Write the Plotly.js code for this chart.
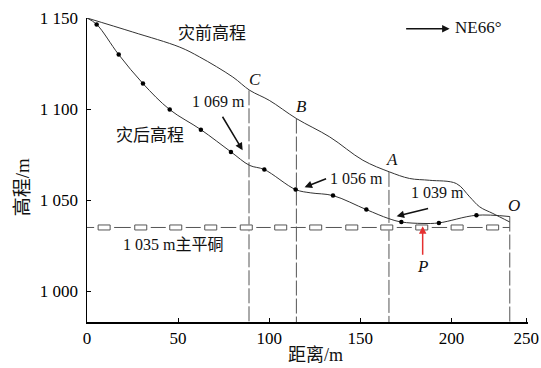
<!DOCTYPE html>
<html>
<head>
<meta charset="utf-8">
<script src="https://cdn.plot.ly/plotly-3.0.1.min.js"></script>
<style>html,body{margin:0;padding:0;background:#fff;}#chart{width:541px;height:368px;}</style>
</head>
<body>
<div id="chart"></div>
<script>
// Pre-disaster elevation profile (灾前高程)
const preX = [0, 25.1, 50.9, 61.8, 80, 89.3, 100, 114.9, 133.2, 151.4, 166, 177, 188, 202.7, 210, 215.5, 222.7, 232];
const preY = [1150, 1142.3, 1134, 1128.6, 1117.6, 1110.3, 1104.8, 1094.8, 1084.7, 1071.9, 1065.5, 1061.9, 1060.9, 1059.1, 1051.8, 1046.3, 1042.7, 1038];
// Post-disaster elevation profile (灾后高程)
const postX = [0, 5.3, 17.4, 30.7, 45.4, 62.5, 79, 89.2, 97.3, 114.5, 122.8, 135, 153.3, 165.5, 172.5, 184.4, 193.1, 213.7, 232];
const postY = [1150, 1146.5, 1129.9, 1114, 1099.7, 1088.7, 1076.5, 1069.1, 1066.8, 1055.8, 1054, 1052.5, 1044.8, 1039.9, 1038, 1037.2, 1037.5, 1041.7, 1041];
// Survey dots on post-disaster profile
const dotX = [5.3, 17.4, 30.7, 45.4, 62.5, 79, 97.3, 114.5, 135, 153.3, 172.5, 193.1, 213.7];
const dotY = [1146.5, 1129.9, 1114, 1099.7, 1088.7, 1076.5, 1066.8, 1055.8, 1052.5, 1044.8, 1038, 1037.5, 1041.7];
// Section lines C, B, A, O
const secNames = ['C', 'B', 'A', 'O'];
const secX = [88.9, 114.9, 165.7, 232];
const secTop = [1110.3, 1094.8, 1065.5, 1041];
// Main adit 1035 m
const aditElev = 1035;
const aditX = [0, 232];
const aditBoxX = [9.4, 29.5, 48.7, 67.9, 87.4, 106.3, 125.5, 145.3, 164.5, 183.7, 203.1, 222.6];
// Axis ticks
const xTickVals = [0, 50, 100, 150, 200, 241.1];
const xTickText = ['0', '50', '100', '150', '200', '250'];
const yTickVals = [1000, 1050, 1100, 1150];
const yTickText = ['1 000', '1 050', '1 100', '1 150'];
const yMin = 983.1;

const serif = 'Liberation Serif, Times New Roman, Noto Sans CJK SC, serif';
const cjk = 'Liberation Serif, Noto Sans CJK SC, sans-serif';

const traces = [];
traces.push({x: aditX, y: [aditElev, aditElev], mode: 'lines', line: {color: '#555', width: 1}, hoverinfo: 'skip'});
secX.forEach((sx, i) => {
  traces.push({x: [sx, sx], y: [secTop[i], yMin], mode: 'lines',
    line: {color: '#555', width: 1, dash: '15px,3px'}, hoverinfo: 'skip'});
});
traces.push({x: preX, y: preY, mode: 'lines', line: {color: '#333', width: 1, shape: 'spline', smoothing: 1}});
traces.push({x: postX, y: postY, mode: 'lines', line: {color: '#333', width: 1, shape: 'spline', smoothing: 1}});
traces.push({x: dotX, y: dotY, mode: 'markers', marker: {color: '#000', size: 4.5}});

const shapes = [];
aditBoxX.forEach(bx => {
  shapes.push({type: 'rect', layer: 'above', xref: 'x', yref: 'y', xsizemode: 'pixel', ysizemode: 'pixel',
    xanchor: bx, yanchor: aditElev, x0: -10, x1: 10, y0: -3, y1: 3, fillcolor: '#fff', line: {width: 0}});
  shapes.push({type: 'rect', layer: 'above', xref: 'x', yref: 'y', xsizemode: 'pixel', ysizemode: 'pixel',
    xanchor: bx, yanchor: aditElev, x0: -6, x1: 6, y0: -2.5, y1: 2.5, fillcolor: '#fff', line: {color: '#555', width: 1}});
});

const ann = [];
function txt(x, y, t, size, fam, extra) {
  ann.push(Object.assign({x: x, y: y, xref: 'x', yref: 'y', text: t, showarrow: false,
    font: {family: fam, size: size, color: '#111'}, xanchor: 'center', yanchor: 'middle'}, extra || {}));
}
txt(68.4, 1141.6, '灾前高程', 17, cjk);
txt(34.4, 1085.6, '灾后高程', 17, cjk);
txt(72.3, 1104.3, '1 069 m', 16, serif);
txt(148, 1062, '1 056 m', 16, serif);
txt(192.4, 1054.2, '1 039 m', 16, serif);
txt(47.1, 1025.8, '1 035 m主平硐', 16, cjk);
// section letters (italic)
const letterPos = [[92, 1116.4], [117.8, 1101.5], [167.2, 1072.5], [234.1, 1047.2]];
secNames.forEach((n, i) => txt(letterPos[i][0], letterPos[i][1], '<i>' + n + '</i>', 17, serif));
txt(184.2, 1013.7, '<i>P</i>', 17, serif);
// arrows
function arr(x, y, ax, ay, color) {
  ann.push({x: x, y: y, xref: 'x', yref: 'y', ax: ax, ay: ay, axref: 'pixel', ayref: 'pixel', text: '',
    showarrow: true, arrowhead: 2, arrowsize: 1, arrowwidth: 1.5, arrowcolor: color || '#111', standoff: 0});
}
arr(85.4, 1077.4, -21, -35);
arr(119.4, 1057.1, 23, -9);
arr(169.9, 1041.2, 33, -8);
arr(184.2, 1035.6, 0, 30, '#e53030');
arr(199.0, 1144.1, -45, 0);
txt(214.8, 1144.9, 'NE66°', 17, serif, {xanchor: 'center'});
// axis titles
ann.push({xref: 'paper', yref: 'paper', x: 0.519, y: -0.108, text: '距离/m', showarrow: false,
  font: {family: cjk, size: 18, color: '#111'}, xanchor: 'center', yanchor: 'middle'});
ann.push({xref: 'paper', yref: 'paper', x: -0.147, y: 0.444, text: '高程/m', showarrow: false, textangle: -90,
  font: {family: cjk, size: 19, color: '#111'}, xanchor: 'center', yanchor: 'middle'});

const layout = {
  width: 541, height: 368,
  margin: {l: 87, r: 13, t: 18, b: 46, pad: 0},
  paper_bgcolor: '#fff', plot_bgcolor: '#fff',
  showlegend: false,
  xaxis: {range: [0, 242], showgrid: false, zeroline: false, showline: true, linecolor: '#000', linewidth: 1.5,
    ticks: 'inside', ticklen: 4, tickcolor: '#000', tickvals: xTickVals, ticktext: xTickText,
    tickfont: {family: serif, size: 17, color: '#000'}, fixedrange: true},
  yaxis: {range: [yMin, 1150], showgrid: false, zeroline: false, showline: true, linecolor: '#000', linewidth: 1.5,
    ticks: 'inside', ticklen: 4, tickcolor: '#000', tickvals: yTickVals, ticktext: yTickText,
    ticklabelstandoff: 4,
    tickfont: {family: serif, size: 17, color: '#000'}, fixedrange: true},
  shapes: shapes,
  annotations: ann
};
Plotly.newPlot('chart', traces, layout, {staticPlot: true, displayModeBar: false});
</script>
</body>
</html>
